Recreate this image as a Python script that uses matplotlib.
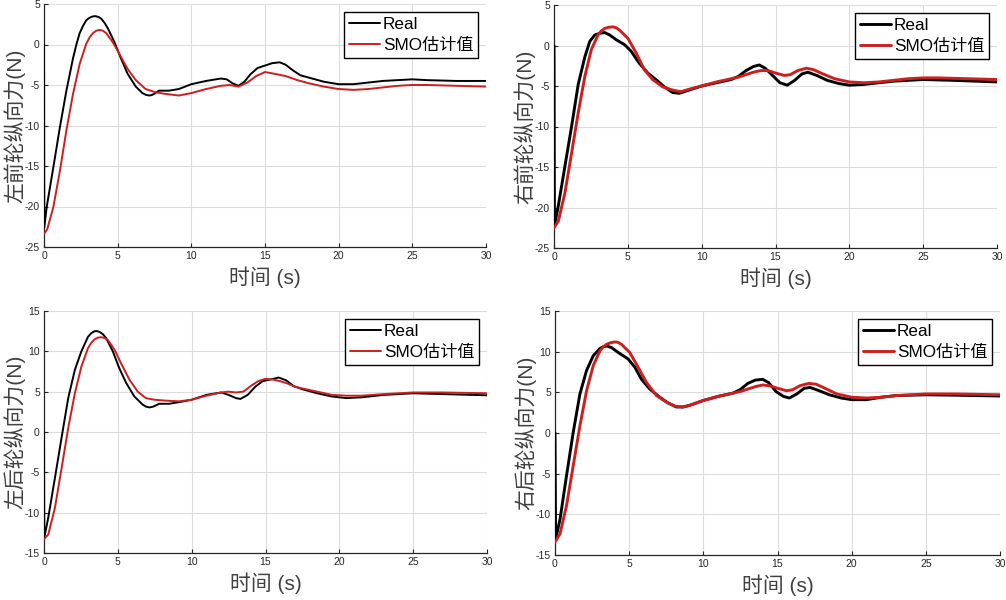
import matplotlib
matplotlib.use("Agg")
import matplotlib.pyplot as plt

plt.rcParams['font.family'] = ['Liberation Sans', 'Noto Sans CJK SC', 'DejaVu Sans']
plt.rcParams['axes.unicode_minus'] = False

# ---------------- data ----------------
# Left front
lf_real_t = [0, 0.02, 0.18, 0.63, 1.08, 1.52, 1.97, 2.2, 2.42, 2.65, 2.87, 3.05, 3.2, 3.35, 3.5, 3.7, 3.88, 4.1, 4.33,
             4.78, 5.22, 5.67, 6.23, 6.68, 6.9, 7.13, 7.3, 7.47, 7.8, 8.48, 9.15, 10, 11, 12, 12.4, 12.8, 13.2, 13.6,
             14, 14.5, 15, 15.5, 16, 16.4, 16.9, 17.4, 18, 19, 20, 21, 22, 23, 24, 25, 26, 28, 30]
lf_real_v = [0, -22.6, -20.1, -15.2, -10.2, -5.7, -1.7, 0.0, 1.4, 2.3, 3.0, 3.25, 3.4, 3.48, 3.5, 3.4, 3.2, 2.7, 2.0,
             0.3, -1.7, -3.6, -5.2, -6.0, -6.2, -6.3, -6.25, -6.1, -5.7, -5.7, -5.5, -4.9, -4.5, -4.2, -4.3, -4.8,
             -5.1, -4.6, -3.7, -2.9, -2.6, -2.3, -2.2, -2.5, -3.2, -3.8, -4.1, -4.6, -4.9, -4.9, -4.7, -4.5, -4.4,
             -4.3, -4.4, -4.5, -4.5]
lf_smo_t = [0, 0.22, 0.63, 1.08, 1.52, 1.97, 2.42, 2.87, 3.1, 3.32, 3.55, 3.77, 4.0, 4.22, 4.66, 5.1, 5.67, 6.23,
            6.9, 7.58, 8.25, 9.15, 10, 11, 12, 12.6, 13.2, 13.8, 14.4, 15, 15.6, 16.4, 17.2, 18, 19, 20, 21, 22,
            23, 24, 25, 26, 28, 30]
lf_smo_v = [-23.4, -22.8, -20.1, -15.6, -10.6, -6.1, -2.4, 0.1, 0.9, 1.4, 1.7, 1.8, 1.7, 1.4, 0.3, -1.1, -3.0, -4.4,
            -5.5, -5.9, -6.1, -6.3, -6.0, -5.5, -5.1, -5.0, -5.2, -4.7, -3.9, -3.4, -3.6, -3.9, -4.4, -4.8, -5.2,
            -5.5, -5.6, -5.5, -5.3, -5.1, -5.0, -5.0, -5.1, -5.2]

# Right front
rf_real_t = [0, 0.03, 0.29, 0.74, 1.19, 1.64, 2.09, 2.42, 2.76, 3.09, 3.43, 3.77, 4.22, 4.78, 5.22, 5.78, 6.35, 6.9,
             7.47, 8.03, 8.48, 9.15, 10, 11, 12, 12.5, 13, 13.5, 13.9, 14.3, 14.8, 15.3, 15.8, 16.3, 16.8, 17.2, 17.8,
             18.5, 19.3, 20, 21, 22, 23, 25, 27, 30]
rf_real_v = [0, -22.3, -19.8, -14.9, -10.0, -4.8, -1.4, 0.5, 1.3, 1.5, 1.6, 1.3, 0.7, 0.1, -0.7, -2.2, -3.4, -4.2,
             -5.1, -5.8, -5.9, -5.5, -5.0, -4.6, -4.2, -3.8, -3.1, -2.6, -2.4, -2.8, -3.7, -4.6, -4.9, -4.3, -3.5,
             -3.3, -3.7, -4.3, -4.7, -4.9, -4.8, -4.6, -4.4, -4.2, -4.3, -4.5]
rf_smo_t = [0, 0.29, 0.74, 1.19, 1.64, 2.09, 2.53, 2.98, 3.2, 3.43, 3.7, 3.99, 4.2, 4.44, 5.0, 5.56, 6.12, 6.68, 7.35,
            8.03, 8.59, 9.15, 10, 11, 12, 12.5, 13, 13.5, 14, 14.5, 15, 15.6, 16, 16.5, 17.1, 17.6, 18.2, 19, 20,
            21, 22, 23, 24, 25, 26, 28, 30]
rf_smo_v = [-22.5, -21.7, -18.2, -13.3, -8.3, -3.8, -0.5, 1.3, 1.8, 2.1, 2.25, 2.3, 2.2, 1.9, 0.9, -0.9, -3.0, -4.2,
            -5.1, -5.5, -5.7, -5.4, -5.0, -4.5, -4.1, -3.9, -3.6, -3.3, -3.1, -3.1, -3.4, -3.7, -3.6, -3.1, -2.8,
            -3.0, -3.5, -4.1, -4.5, -4.6, -4.5, -4.3, -4.1, -4.0, -4.0, -4.1, -4.2]

# Left rear
lr_real_t = [0, 0.02, 0.29, 0.74, 1.19, 1.64, 2.09, 2.53, 2.98, 3.2, 3.43, 3.6, 3.77, 4.0, 4.22, 4.66, 5.1, 5.56,
             6.12, 6.68, 6.9, 7.13, 7.3, 7.47, 7.8, 8.48, 9.15, 10, 11, 12, 12.5, 13, 13.3, 13.8, 14.3, 14.8, 15.3,
             15.9, 16.4, 16.9, 17.5, 18.5, 19.5, 20.5, 21.5, 23, 25, 27, 30]
lr_real_v = [0, -13.1, -10.6, -5.7, -0.7, 4.2, 7.7, 10.0, 11.8, 12.25, 12.5, 12.5, 12.4, 12.1, 11.6, 10.0, 7.9, 6.1,
             4.4, 3.4, 3.15, 3.05, 3.1, 3.2, 3.5, 3.5, 3.7, 4.0, 4.6, 4.9, 4.6, 4.2, 4.1, 4.6, 5.6, 6.3, 6.5, 6.75,
             6.4, 5.7, 5.3, 4.8, 4.4, 4.2, 4.3, 4.6, 4.8, 4.7, 4.55]
lr_smo_t = [0, 0.29, 0.74, 1.19, 1.64, 2.09, 2.53, 2.98, 3.2, 3.43, 3.65, 3.88, 4.1, 4.33, 4.78, 5.22, 5.78, 6.35,
            6.9, 7.47, 8.14, 9.15, 10, 11, 12, 12.5, 13, 13.5, 14, 14.5, 15, 15.5, 16, 16.5, 17, 17.5, 18.5, 19.5,
            20.5, 21.5, 23, 25, 27, 30]
lr_smo_v = [-13.3, -12.7, -9.4, -4.5, 0.5, 4.8, 8.1, 10.4, 11.05, 11.5, 11.7, 11.75, 11.65, 11.4, 10.2, 8.5, 6.5,
            5.0, 4.2, 4.0, 3.9, 3.8, 4.0, 4.5, 4.9, 5.0, 4.9, 5.0, 5.7, 6.3, 6.6, 6.5, 6.3, 6.0, 5.6, 5.4, 5.0,
            4.6, 4.5, 4.5, 4.7, 4.9, 4.9, 4.8]

# Right rear
rr_real_t = [0, 0.04, 0.34, 0.78, 1.23, 1.68, 2.13, 2.58, 3.03, 3.25, 3.48, 3.81, 4.26, 4.93, 5.38, 5.83, 6.39, 7.06,
             7.62, 8.18, 8.63, 9.08, 10, 11, 12, 12.5, 13, 13.5, 14, 14.4, 14.9, 15.4, 15.8, 16.3, 16.8, 17.2, 17.8,
             18.5, 19.3, 20, 21, 22, 23, 25, 27, 30]
rr_real_v = [0, -13.1, -10.6, -5.2, 0.1, 4.8, 7.7, 9.5, 10.4, 10.6, 10.7, 10.5, 9.9, 9.1, 8.1, 6.6, 5.4, 4.4, 3.7,
             3.2, 3.2, 3.4, 4.0, 4.5, 4.9, 5.35, 6.1, 6.5, 6.6, 6.2, 5.1, 4.5, 4.3, 4.8, 5.5, 5.6, 5.2, 4.7, 4.3,
             4.1, 4.1, 4.4, 4.6, 4.7, 4.65, 4.55]
rr_smo_t = [0, 0.34, 0.78, 1.23, 1.68, 2.13, 2.58, 3.03, 3.25, 3.48, 3.75, 4.04, 4.25, 4.48, 5.04, 5.6, 6.17, 6.84,
            7.51, 8.07, 8.63, 9.08, 10, 11, 12, 12.5, 13, 13.5, 14, 14.5, 15, 15.6, 16, 16.5, 17.1, 17.6, 18.2, 19,
            20, 21, 22, 23, 25, 27, 30]
rr_smo_v = [-13.4, -12.4, -8.9, -4.0, 0.9, 5.2, 8.3, 10.1, 10.6, 10.9, 11.1, 11.2, 11.15, 10.9, 9.9, 8.1, 6.2, 4.6,
            3.8, 3.3, 3.2, 3.4, 4.0, 4.5, 4.9, 5.1, 5.4, 5.7, 5.9, 5.8, 5.5, 5.2, 5.3, 5.8, 6.1, 6.0, 5.5, 4.8, 4.4,
            4.3, 4.4, 4.6, 4.8, 4.8, 4.7]

ylabels = ['左前轮纵向力(N)', '右前轮纵向力(N)', '左后轮纵向力(N)', '右后轮纵向力(N)']
xlabel = '时间 (s)'
legend_labels = ['Real', 'SMO估计值']
front_yticks = [-25, -20, -15, -10, -5, 0, 5]
rear_yticks = [-15, -10, -5, 0, 5, 10, 15]
xticks = [0, 5, 10, 15, 20, 25, 30]

# ---------------- figure ----------------
W, H = 1006, 600
fig = plt.figure(figsize=(W / 100, H / 100), dpi=100)

def px_axes(l, t, r, b):
    ax = fig.add_axes([l / W, 1 - b / H, (r - l) / W, (b - t) / H])
    ax._px_w = r - l
    return ax

panels = [
    (px_axes(44, 4, 486, 247), lf_real_t, lf_real_v, lf_smo_t, lf_smo_v, ylabels[0], front_yticks, 1.4),
    (px_axes(554, 5, 997, 248), rf_real_t, rf_real_v, rf_smo_t, rf_smo_v, ylabels[1], front_yticks, 2.1),
    (px_axes(44, 311, 487, 553), lr_real_t, lr_real_v, lr_smo_t, lr_smo_v, ylabels[2], rear_yticks, 1.4),
    (px_axes(555, 311, 1000, 555), rr_real_t, rr_real_v, rr_smo_t, rr_smo_v, ylabels[3], rear_yticks, 2.1),
]

axis_col = '#262626'
red = '#cc1f1f'
for ax, rt, rv, st, sv, yl, yt, lw in panels:
    ax.plot(rt, rv, color='black', lw=lw, label=legend_labels[0], zorder=3,
            solid_joinstyle='round', solid_capstyle='round')
    ax.plot(st, sv, color=red, lw=lw, label=legend_labels[1], zorder=4,
            solid_joinstyle='round', solid_capstyle='round')
    ax.set_xlim(0, 30)
    ax.set_ylim(yt[0], yt[-1])
    ax.set_xticks(xticks)
    ax.set_yticks(yt)
    ax.grid(True, color='#dcdcdc', lw=0.8)
    ax.set_axisbelow(True)
    for s in ['top', 'right']:
        ax.spines[s].set_visible(False)
    for s in ['left', 'bottom']:
        ax.spines[s].set_color(axis_col)
        ax.spines[s].set_linewidth(0.9)
    ax.tick_params(direction='in', length=3, width=0.8, labelsize=7.5, colors=axis_col, pad=3)
    ax.set_xlabel(xlabel, fontsize=15, color='#404040', labelpad=4)
    ax.set_ylabel(yl, fontsize=15, color='#404040')
    ax.yaxis.set_label_coords(-19 / ax._px_w, 0.5)
    leg = ax.legend(loc='upper right', fontsize=12.3, frameon=True, fancybox=False,
                    edgecolor='black', framealpha=1, handlelength=1.8, handletextpad=0.15,
                    borderpad=0.3, labelspacing=0.35, borderaxespad=0.45)
    leg.get_frame().set_linewidth(1.0)

fig.savefig('out.png', dpi=100)
